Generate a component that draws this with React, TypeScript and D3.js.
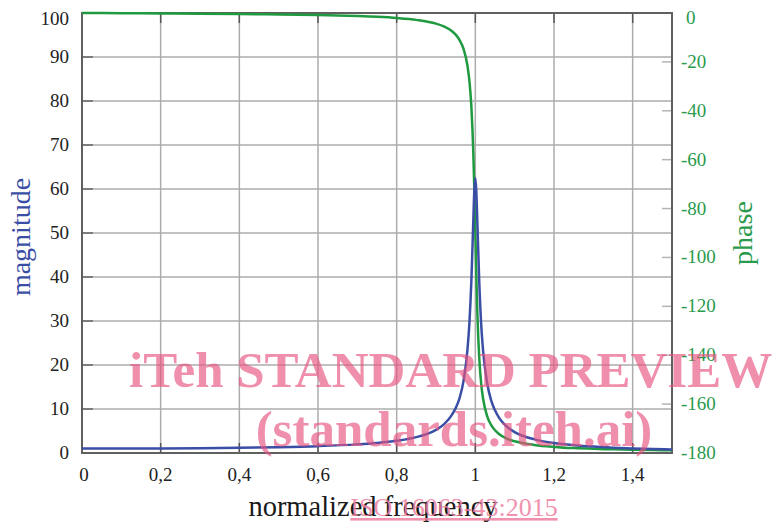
import * as d3 from 'd3';

// normalized frequency samples (denser around resonance)
const freq = [0, 0.1, 0.2, 0.3, 0.4, 0.5, 0.6, 0.7, 0.75, 0.8, 0.85, 0.9, 0.92, 0.94, 0.95, 0.96, 0.97, 0.98, 0.985, 0.99, 0.995, 0.9975, 1.0, 1.0025, 1.005, 1.01, 1.015, 1.02, 1.03, 1.04, 1.05, 1.06, 1.08, 1.1, 1.15, 1.2, 1.25, 1.3, 1.35, 1.4, 1.45, 1.5];
// magnitude
const magnitude = [1.0, 1.01, 1.04, 1.1, 1.19, 1.33, 1.56, 1.96, 2.29, 2.78, 3.6, 5.26, 6.5, 8.6, 10.2, 12.5, 16.4, 23.5, 29.7, 39.3, 53.2, 59.8, 62.5, 59.5, 52.8, 38.8, 29.1, 23.0, 15.9, 12.0, 9.7, 8.05, 6.0, 4.76, 3.1, 2.27, 1.78, 1.45, 1.22, 1.04, 0.91, 0.8];
// phase (degrees)
const phase = [0, -0.1, -0.2, -0.3, -0.44, -0.61, -0.86, -1.26, -1.57, -2.04, -2.81, -4.33, -5.47, -7.36, -8.86, -11.1, -14.7, -21.6, -27.9, -38.5, -57.9, -72.6, -90, -107.3, -122, -141.2, -151.8, -158, -164.9, -168.5, -170.7, -172.2, -174.1, -175.2, -176.7, -177.5, -178, -178.3, -178.5, -178.7, -178.8, -178.9];

const xTicks = [0, 0.2, 0.4, 0.6, 0.8, 1.0, 1.2, 1.4];
const magTicks = [0, 10, 20, 30, 40, 50, 60, 70, 80, 90, 100];
const phaseTicks = [0, -20, -40, -60, -80, -100, -120, -140, -160, -180];

const W = 773;
const H = 523;
const left = 82, right = 672, top = 13, bottom = 453;

const serif = '"Liberation Serif", "Times New Roman", serif';
const blue = '#3b4ea6';
const green = '#1f9a40';
const greenText = '#2a9a4c';

export default function App() {
  const x = d3.scaleLinear().domain([0, 1.5]).range([left, right]);
  const yMag = d3.scaleLinear().domain([0, 100]).range([bottom, top]);
  const yPh = d3.scaleLinear().domain([-180, 0]).range([bottom, top]);

  const magLine = d3.line<number>()
    .x((_, i) => x(freq[i]))
    .y(d => yMag(d))
    .curve(d3.curveMonotoneX);
  const phLine = d3.line<number>()
    .x((_, i) => x(freq[i]))
    .y(d => yPh(d))
    .curve(d3.curveMonotoneX);

  const fmt = (v: number) => String(v).replace('.', ',');

  return (
    <svg width={W} height={H} style={{ position: 'absolute', left: 0, top: 0, background: '#fff' }}>
      <defs>
        <clipPath id="plot">
          <rect x={left} y={top - 2} width={right - left} height={bottom - top + 4} />
        </clipPath>
      </defs>

      {/* grid */}
      {xTicks.filter(t => t > 0).map(t => (
        <line key={'gx' + t} x1={x(t)} x2={x(t)} y1={top} y2={bottom} stroke="#adadad" strokeWidth={1.5} />
      ))}
      {magTicks.filter(t => t > 0 && t < 100).map(t => (
        <line key={'gy' + t} x1={left} x2={right} y1={yMag(t)} y2={yMag(t)} stroke="#adadad" strokeWidth={1.5} />
      ))}

      {/* ticks */}
      {xTicks.filter(t => t > 0).map(t => (
        <g key={'tx' + t}>
          <line x1={x(t)} x2={x(t)} y1={bottom} y2={bottom - 10} stroke="#555" strokeWidth={1.5} />
          <line x1={x(t)} x2={x(t)} y1={top} y2={top + 10} stroke="#555" strokeWidth={1.5} />
        </g>
      ))}
      {magTicks.map(t => (
        <line key={'ty' + t} x1={left} x2={left + 11} y1={yMag(t)} y2={yMag(t)} stroke="#666" strokeWidth={1.5} />
      ))}
      {phaseTicks.map(t => (
        <line key={'tp' + t} x1={right - 10} x2={right} y1={yPh(t)} y2={yPh(t)} stroke="#b5b5b5" strokeWidth={1.5} />
      ))}

      {/* frame */}
      <rect x={left} y={top} width={right - left} height={bottom - top} fill="none" stroke="#606060" strokeWidth={2} />

      {/* curves */}
      <g clipPath="url(#plot)">
        <path d={phLine(phase) || ''} fill="none" stroke={green} strokeWidth={2.5} />
        <path d={magLine(magnitude) || ''} fill="none" stroke={blue} strokeWidth={2.5} />
      </g>

      {/* tick labels */}
      {xTicks.map(t => (
        <text key={'lx' + t} x={x(t) + (t === 0 ? 2 : 0)} y={481} textAnchor="middle" fontFamily={serif} fontSize={19} fill="#222">
          {fmt(t)}
        </text>
      ))}
      {magTicks.map(t => (
        <text key={'ly' + t} x={69} y={Math.max(yMag(t), 19) + 6} textAnchor="end" fontFamily={serif} fontSize={19} fill="#222">
          {t}
        </text>
      ))}
      {phaseTicks.map(t => (
        <text key={'lp' + t} x={t === 0 ? 686 : 681} y={Math.max(yPh(t), 18) + 6} textAnchor="start" fontFamily={serif} fontSize={19} fill={greenText}>
          {t}
        </text>
      ))}

      {/* axis titles */}
      <text x={373} y={516} textAnchor="middle" fontFamily={serif} fontSize={28.5} fill="#1a1a1a">
        normalized frequency
      </text>
      <text transform="translate(30,237) rotate(-90)" textAnchor="middle" fontFamily={serif} fontSize={28} fill={blue}>
        magnitude
      </text>
      <text transform="translate(752,233) rotate(-90)" textAnchor="middle" fontFamily={serif} fontSize={28} fill={greenText}>
        phase
      </text>

      {/* watermark */}
      <g fill="#e75480" opacity={0.65} fontFamily={serif} fontWeight="bold">
        <text x={129} y={387} fontSize={51}>iTeh STANDARD PREVIEW</text>
        <text x={454} y={446} fontSize={51} textAnchor="middle">(standards.iteh.ai)</text>
      </g>
      <text x={454} y={516} textAnchor="middle" fontFamily={serif} fontSize={26} fill="#ee7fa0" opacity={0.85} textDecoration="underline">
        ISO 16063-43:2015
      </text>
    </svg>
  );
}
